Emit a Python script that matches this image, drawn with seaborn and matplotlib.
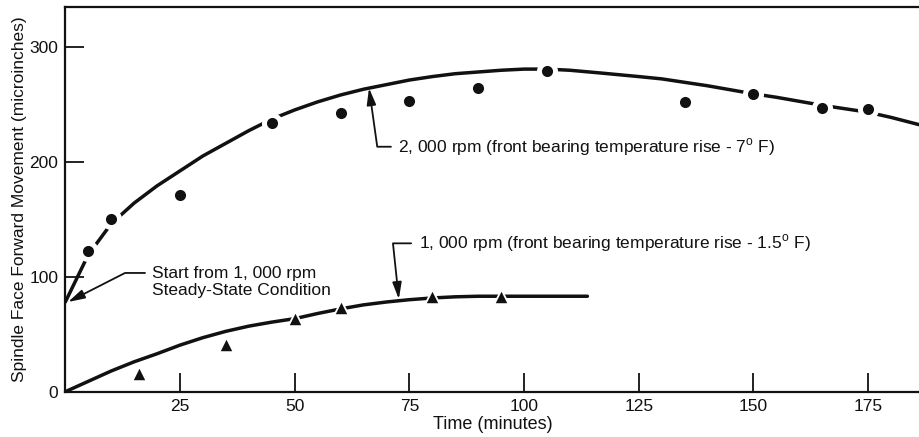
import pandas as pd
import seaborn as sns
import matplotlib.pyplot as plt

# measured points, 2,000 rpm (circles)
time_2000 = [5, 10, 25, 45, 60, 75, 90, 105, 135, 150, 165, 175]
move_2000 = [122, 150, 171, 234, 242, 253, 264, 279, 252, 259, 247, 246]

# measured points, 1,000 rpm (triangles)
time_1000 = [16, 35, 50, 60, 80, 95]
move_1000 = [15, 41, 63, 73, 82, 82]

# hand-drawn curves
curve_2000_t = [0, 5, 10, 15, 20, 25, 30, 35, 40, 45, 50, 55, 60, 65, 70, 75, 80,
                85, 90, 95, 100, 105, 110, 117, 125, 130, 135, 140, 145, 150, 155,
                160, 165, 170, 175, 180, 186.3]
curve_2000_y = [78, 119, 146, 164, 179, 192, 205, 216, 227, 237, 245, 252, 258, 263,
                267, 271, 274, 276.5, 278, 279.5, 280.5, 280.5, 279.5, 277, 274, 272,
                269, 266, 262.5, 259, 256, 252.5, 249, 246, 243, 238.5, 232]

curve_1000_t = [0, 5, 10, 15, 20, 25, 30, 35, 40, 45, 50, 55, 60, 65, 70, 75, 80,
                85, 90, 95, 100, 105, 113.8]
curve_1000_y = [0, 9, 18, 26, 33, 40.5, 47, 52.5, 57, 60.5, 63.5, 68, 72, 75.5, 78,
                80, 81.5, 82.5, 83, 83, 83, 83, 83]

x_ticks = [25, 50, 75, 100, 125, 150, 175]
y_ticks = [0, 100, 200, 300]

sns.set_theme(style="ticks")
plt.rcParams['font.family'] = ['Liberation Sans', 'DejaVu Sans']
ink = '#111111'
fs = 12.5

fig = plt.figure(figsize=(9.2, 4.37), dpi=100)
ax = fig.add_axes([65.3 / 920, 45.3 / 437, 1 - 65.3 / 920, 384.7 / 437])

c2 = pd.DataFrame({'t': curve_2000_t, 'y': curve_2000_y})
c1 = pd.DataFrame({'t': curve_1000_t, 'y': curve_1000_y})
p2 = pd.DataFrame({'t': time_2000, 'y': move_2000})
p1 = pd.DataFrame({'t': time_1000, 'y': move_1000})

sns.lineplot(data=c2, x='t', y='y', color=ink, lw=2.5, estimator=None, ax=ax)
sns.lineplot(data=c1, x='t', y='y', color=ink, lw=2.5, estimator=None, ax=ax)

# white halo under the markers gives the broken line look
sns.scatterplot(data=p2, x='t', y='y', marker='o', s=230, color='white',
                linewidth=0, ax=ax, zorder=3)
sns.scatterplot(data=p1, x='t', y='y', marker='^', s=200, color='white',
                linewidth=0, ax=ax, zorder=3)
sns.scatterplot(data=p2, x='t', y='y', marker='o', s=64, color=ink,
                linewidth=0, ax=ax, zorder=4)
sns.scatterplot(data=p1, x='t', y='y', marker='^', s=68, color=ink,
                linewidth=0, ax=ax, zorder=4)

ax.set_xlim(0, 186.3)
ax.set_ylim(0, 334.5)
ax.set_xticks(x_ticks)
ax.set_yticks(y_ticks)
ax.tick_params(direction='in', length=14, width=1.3, color=ink, labelsize=fs,
               labelcolor=ink, pad=5)
for side in ['left', 'bottom', 'top']:
    ax.spines[side].set_linewidth(1.6)
    ax.spines[side].set_color(ink)
ax.spines['right'].set_visible(False)

ax.set_xlabel('Time (minutes)', fontsize=13, color=ink, labelpad=2)
ax.set_ylabel('Spindle Face Forward Movement (microinches)', fontsize=fs,
              color=ink, labelpad=1.5)

arrow = dict(arrowstyle='-|>,head_length=0.8,head_width=0.22', color=ink, lw=1.3,
             shrinkA=3, shrinkB=0)

ax.annotate('2, 000 rpm (front bearing temperature rise - 7$^{\\mathregular{o}}$ F)',
            xy=(66.2, 264), xytext=(72.6, 213), ha='left', va='center',
            fontsize=fs, color=ink,
            arrowprops=dict(arrow, relpos=(0, 0.5),
                            connectionstyle='angle,angleA=180,angleB=98,rad=0'))

ax.annotate('1, 000 rpm (front bearing temperature rise - 1.5$^{\\mathregular{o}}$ F)',
            xy=(72.7, 80.5), xytext=(77.0, 129), ha='left', va='center',
            fontsize=fs, color=ink,
            arrowprops=dict(arrow, relpos=(0, 0.5),
                            connectionstyle='angle,angleA=180,angleB=96,rad=0'))

ax.annotate('Start from 1, 000 rpm\nSteady-State Condition',
            xy=(0.6, 78), xytext=(19.0, 95.5), ha='left', va='center',
            fontsize=fs, color=ink, linespacing=1.15,
            arrowprops=dict(arrow, relpos=(0, 0.78),
                            connectionstyle='angle,angleA=180,angleB=27,rad=0'))

fig.savefig('out.png', dpi=100)
